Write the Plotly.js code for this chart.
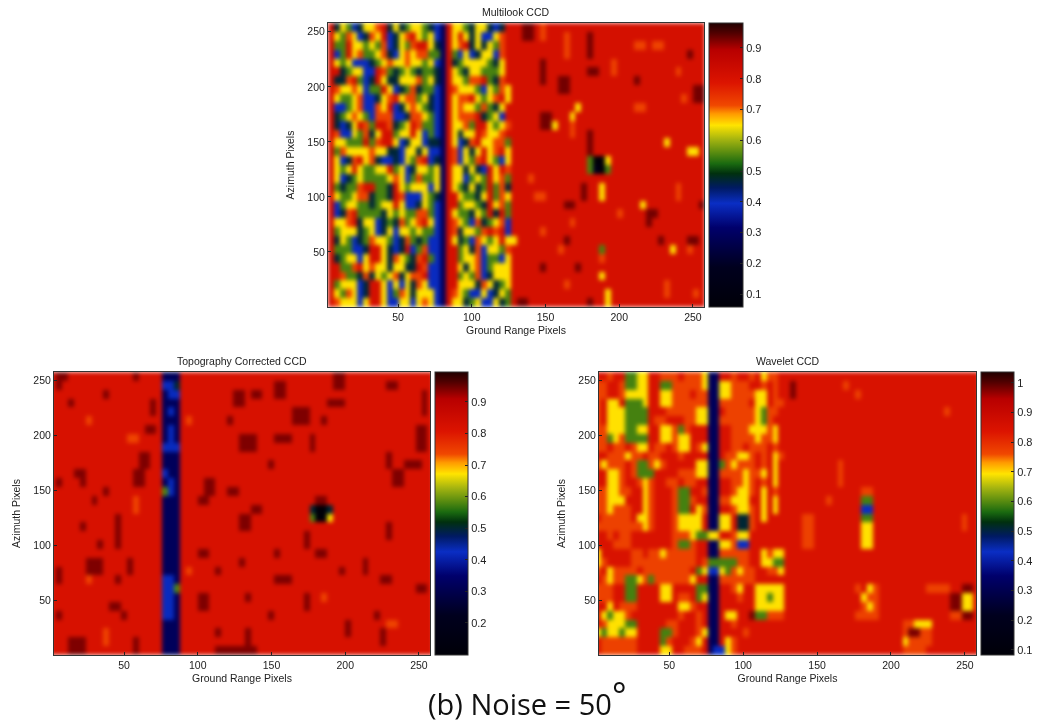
<!DOCTYPE html>
<html><head><meta charset="utf-8">
<script src="https://cdn.plot.ly/plotly-3.0.1.min.js"></script>
<style>html,body{margin:0;padding:0;background:#fff}#c{width:1038px;height:725px;filter:blur(0.4px)}
.heatmaplayer image,.hm image{filter:blur(1.9px)}</style>
</head><body><div id="c"></div>
<script>
// Each digit is a colour class; each panel's colorbar gives its value.
const multilookLeft = [
"8465346678 4645665432 8665466434 88","8657634768 3467865632 8686463367 88","8558665657 3465788642 8678464657 88","8358675567 4367677552 8536346637 88",
"8656333456 7667665632 8456666546 88","8845663387 5456545542 8654665556 88","8447853486 4466675642 8665778547 88","8766763558 6345745532 8766653657 68",
"8655673346 7867756432 8677865678 68","8335673376 8346765432 8676657546 88","8456765377 7334776532 8677784563 88","8434687588 7456875532 8667588656 78",
"8733657468 8566863532 8646687667 88","8665558578 8634663442 8634786677 58","8576666766 4436646332 8736468678 68","8634786743 3436578342 8736578653 68",
"8656865566 8563466562 8664643868 78","8634565555 6763575562 8663565867 58","8545578855 4865666362 8654645857 48","8655677455 4873336542 8865546857 68",
"8356655456 6863346532 8856654867 58","8347855554 6565577532 8655465848 58","8667846634 5475678632 8765374567 38","8566645634 6366565532 8746657878 38",
"8465345766 5347545332 8645376568 66","8555334886 4348357332 8856473665 78","8456636886 4765478532 8856673553 68","8855786766 4664487332 8864673566 68",
"8875547465 6746778332 8856573466 68","8566634886 3636476332 8866647645 68","8657634886 3576466632 8765336346 58","8766636886 3366367632 8664563364 58"];
const multilookRight = [
"8998788888 8888888888 8888888888 88","8998788878 8898888888 8888888888 88","8888888878 8898888888 7787788888 88","8888888878 8898888888 8888888889 88",
"8888988888 8888887888 8888888888 88","8888988888 8899887888 8888888788 88","8888988998 8888888888 9888888888 88","8888888998 8888888888 8888888888 99",
"8888888888 8888888888 8888888878 99","8888888888 6888888888 7788888888 88","8888998886 8888888888 8888888888 88","8888996887 8888888888 8888888888 88",
"8888888887 8898888888 8888888888 88","8888888888 8898888888 8888868888 88","8888888888 8898888888 8888888886 68","8888888888 8850068888 8888888888 88",
"8888888888 8851058888 8888888888 88","8878888888 8888888888 8888888888 88","8888888888 8988688888 8888888788 88","8887788888 8988688888 8888888788 88",
"8888888899 8888888888 8688888888 89","8888888888 8888888788 8899888888 88","8888888887 8888888888 8898888888 88","8888788888 8888888888 8888888888 88",
"8888888898 8888888888 8888988889 98","8888888788 8888588888 8888886887 88","8888888888 8888788888 8888888888 88","8888988888 9888888888 8888888888 88",
"8888888888 8888688888 8888888888 88","8888888878 8888888888 8888878888 88","8888888888 8888868888 8888878888 78","9988888888 8898868888 8888888888 88"];
const topography = [
"8998888888 8888988882 2288888888 8888888888 8888888899 8888888888 8888","8988888888 8888888883 3488888888 8888888899 8888888899 8888888998 8888",
"8888888889 8888888882 3388888888 8998998899 8888888888 8888888888 8889","8889888888 8888888982 2288888888 8998888888 8888888999 8888888888 8889",
"8888888888 8888888982 3288888888 8888888888 8999888888 8888888888 8889","8888887888 8888888882 2287888888 9888888888 8999889888 8888888888 8888",
"8888888888 8888889982 3288888888 8888888888 8888888888 8888888888 8899","8888888888 8887788882 3288888888 8899988899 9888988888 8888888888 8899",
"8888888888 8888888883 3388888888 8899988888 8888988888 8888888888 8899","8888888888 8888899882 2288888888 8888888888 8888888888 8888888988 8888",
"8888888888 8888899882 2288888888 8888888988 8888888888 8888888988 9998","8888998888 8888998883 2288888888 8888888888 8888888888 8888888899 8888",
"8988898888 8888998882 3288889988 8888888888 8888888888 8888888899 8888","8888888889 8888888885 3288889988 9988888888 8888888888 8888888888 8888",
"8888888988 8888788882 2288899888 8888888888 8888899888 8888888888 8888","8888888888 8888788882 2288888888 8888998888 8888400488 8888888888 8888",
"8888888888 8988888882 2288888888 8899888888 8888500688 8888888888 8888","8888898888 8988888882 2288888888 8899888888 8888888888 8888888988 8888",
"8888888888 8988888882 2288888888 8888888888 8889888888 8888888988 8888","8888888898 8988888882 2288888888 8888888888 8889888888 8888888888 8888",
"8888888888 8888888882 2288899888 8888888898 8888899888 8888888888 8888","8888889998 8889888882 2288888888 8898888888 8888888888 8889888888 8888",
"8988889998 8889888882 2287888898 8888888888 8888888889 8889888888 8888","8988887888 8988888883 3288888888 8888888899 9888888888 8888889988 8888",
"8888888888 8888888883 3588888888 8888888888 8888888888 8888888888 8899","8888888888 8888888883 3288899888 8889888888 8889887888 8888888888 8888",
"8888888888 9988888883 3288899888 8888888888 8889888888 8888888888 8888","8988888888 8898888883 3288888888 8888888988 8888888888 8888898888 8888",
"8888888888 8888888882 2288888888 8888888888 8888888888 9888888778 8888","8888888887 8888888882 2288888898 8889888888 8888888888 9888889888 8888",
"8889998887 8888988882 2288888888 8889888888 8888888888 8888889888 8888","8889998888 8888988882 2288888899 9999988888 8888888888 8888888888 8888"];
const waveletLeft = [
"8878855668 8777877762 2887887867 78","7788755668 8557777762 2667778878 78","7788766668 8667778772 2667777668 78","7866855568 8667777772 2777778668 77",
"7866655558 8877777662 2877777657 78","7866655558 7788877662 2777777657 88","7766655668 8667578882 2887776667 68","7756755558 8667668882 2887777677 68",
"7787787668 7787668762 2887787778 78","8877767787 7888788882 2877667878 67","7677787557 6788888662 2576777878 68","8866787555 8888777662 2777767768 68",
"8866788767 8877877882 2887767878 68","7766778867 8887558872 2887667868 78","7766688867 8887557882 2776668868 68","7767778867 8887558672 2887667868 68",
"8777778667 8887666682 2668447868 88","7777777767 8887666682 2668447888 88","8878778888 8887776556 6887668888 88","8887778888 8887557882 2667338888 88",
"6888887787 7677777882 2777778867 66","6788887777 7777777875 5555778866 55","7867777877 7777778563 3657677887 76","8767755675 7777776882 2777777888 88",
"7778855888 8668888552 2887688666 66","7778855888 8668778562 2888788665 66","8868777888 8888667882 2888888666 66","8656678888 8888788782 2866889557 77",
"8766655888 8877888782 2887888888 88","6566566888 8557888762 2888878888 88","8777777888 8578887682 2867888888 88","8777777888 8668877782 3367888888 88"];
const waveletRight = [
"8888888888 8888888888 8888888888 888","8988888888 7888888888 8888888888 888","8988888888 8878888888 8888888888 888","8888888888 8888888888 8888888888 888",
"8888888888 8888888888 8888888788 888","8888888888 8888888888 8888888888 888","8888888888 8888888888 8888888888 888","8888888888 8888888888 8888888888 888",
"8888888888 8888888888 8888888888 888","8888888888 8888888888 8888888888 888","8888888887 8888888888 8888888888 888","8888888887 8888888888 8888888888 888",
"8888888887 8888888888 8888888888 888","8888888888 8887788888 8888888888 888","8888888788 8885588888 8888888888 888","8888888888 8883388888 8888888888 888",
"8887788888 8885588888 8888888888 788","8887788888 8886688888 8888888888 788","8887788888 8886688888 8888888888 888","8887788888 8886688888 8888888888 888",
"8888888888 8888888888 8888888888 888","8888888888 8888888888 8888888888 888","8888888888 8888888888 8888888888 888","8888888888 8888888888 8888888888 888",
"8888888888 8878678888 8888777788 998","8888888888 8886778888 8888888899 668","8888888888 8887678888 8888888899 668","8888888888 8877778888 8888888877 998",
"8888888888 8888888888 7766688888 888","8888888888 8888888888 7997788888 888","8888888888 8888888888 6777788888 888","8888888888 8888888888 7777888888 888"];

const tickValues = [50, 100, 150, 200, 250];
const multilookLevels  = [0.06, 0.17, 0.29, 0.39, 0.47, 0.55, 0.65, 0.72, 0.81, 0.93];
const topographyLevels = [0.10, 0.21, 0.32, 0.42, 0.50, 0.58, 0.673, 0.74, 0.82, 0.94];
const waveletLevels    = [0.09, 0.20, 0.32, 0.43, 0.51, 0.59, 0.695, 0.77, 0.85, 0.98];
const barTicks = {
  top: [0.1,0.2,0.3,0.4,0.5,0.6,0.7,0.8,0.9],
  left: [0.2,0.3,0.4,0.5,0.6,0.7,0.8,0.9],
  right: [0.1,0.2,0.3,0.4,0.5,0.6,0.7,0.8,0.9,1]
};
const colours = [[0,'#000008'],[0.14,'#00001e'],[0.28,'#00006c'],[0.365,'#0a2ec4'],[0.42,'#001a62'],[0.47,'#00300e'],[0.505,'#1a6a10'],[0.59,'#a4b410'],[0.64,'#ffe400'],[0.68,'#ff9a00'],[0.71,'#f04800'],[0.79,'#dc1400'],[0.905,'#b80000'],[0.965,'#500000'],[1,'#200000']];

const W = 1038, H = 725;
const parse = (rows, levels, n) => rows.map(r => Array.from(r.replace(/ /g,'').padEnd(n,'8')).map(c => levels[+c])).reverse();
const join = (a, b) => a.map((r, i) => r + ' ' + b[i]);
const xs = (x0, n) => Array.from({length:n}, (_, i) => x0 + 2 + 4*i);
const ys = n => Array.from({length:n}, (_, i) => (i + 0.5) * 258 / n);

const panels = [
 {name:'Multilook CCD', rows:join(multilookLeft,multilookRight), lv:multilookLevels, n:64, x0:2.5, zr:[0.058,0.981], ticks:barTicks.top, px:[328,704], py:[23,307], bar:[709,34]},
 {name:'Topography Corrected CCD', rows:topography, lv:topographyLevels, n:65, x0:0, zr:[0.098,0.995], ticks:barTicks.left, px:[54,430], py:[372,655], bar:[435,33]},
 {name:'Wavelet CCD', rows:join(waveletLeft,waveletRight), lv:waveletLevels, n:65, x0:0, zr:[0.083,1.037], ticks:barTicks.right, px:[599,976], py:[372,655], bar:[981,33]}
];
const font = {family:'"Liberation Sans", Arial, sans-serif', size:10.5, color:'#222'};
const layout = {width:W, height:H, margin:{l:0,r:0,t:0,b:0,autoexpand:false}, paper_bgcolor:'#fff', plot_bgcolor:'#fff', font, showlegend:false, annotations:[]};
const traces = [];
panels.forEach((p, i) => {
  const s = i ? String(i+1) : '';
  traces.push({type:'heatmap', z:parse(p.rows,p.lv,p.n), x:xs(p.x0,p.n), y:ys(32), xaxis:'x'+s, yaxis:'y'+s,
    zmin:p.zr[0], zmax:p.zr[1], colorscale:colours, hoverinfo:'skip',
    colorbar:{x:p.bar[0]/W, xanchor:'left', xpad:0, ypad:0, thickness:p.bar[1], thicknessmode:'pixels',
      len:p.py[1]-p.py[0], lenmode:'pixels', y:1-p.py[1]/H, yanchor:'bottom', outlinewidth:1, outlinecolor:'#333',
      tickmode:'array', tickvals:p.ticks, ticks:'inside', ticklen:3, tickcolor:'#222', tickfont:{size:11, color:'#222', family:font.family}, tickformat:'.1~f'}});
  layout['xaxis'+s] = {domain:[p.px[0]/W,p.px[1]/W], range:[2.5,257.5], anchor:'y'+s, tickmode:'array', tickvals:tickValues,
    ticks:'inside', ticklen:3, tickcolor:'#222', showline:true, linecolor:'#333', linewidth:1, mirror:true, showgrid:false, zeroline:false,
    title:{text:'Ground Range Pixels', font:{size:10.5}, standoff:5}};
  layout['yaxis'+s] = {domain:[1-p.py[1]/H,1-p.py[0]/H], range:[0,258], anchor:'x'+s, tickmode:'array', tickvals:tickValues,
    ticks:'inside', ticklen:3, tickcolor:'#222', showline:true, linecolor:'#333', linewidth:1, mirror:true, showgrid:false, zeroline:false,
    title:{text:'Azimuth Pixels', font:{size:10.5}, standoff:10}};
  layout.annotations.push({text:p.name, xref:'paper', yref:'paper', x:(p.px[0]+p.px[1])/2/W, y:1-(p.py[0]-11)/H, xanchor:'center', yanchor:'middle', showarrow:false, font:{size:10.5,color:'#222'}});
});
layout.annotations.push({text:'(b) Noise = 50', xref:'paper', yref:'paper', x:520/W, y:1-703/H, xanchor:'center', yanchor:'middle', showarrow:false, font:{family:'"Open Sans", sans-serif', size:29, color:'#111'}});
layout.annotations.push({text:'°', xref:'paper', yref:'paper', x:619/W, y:1-695/H, xanchor:'center', yanchor:'middle', showarrow:false, font:{family:'"Open Sans", sans-serif', size:34, color:'#111'}});
Plotly.newPlot('c', traces, layout, {displayModeBar:false, staticPlot:true});
</script></body></html>
